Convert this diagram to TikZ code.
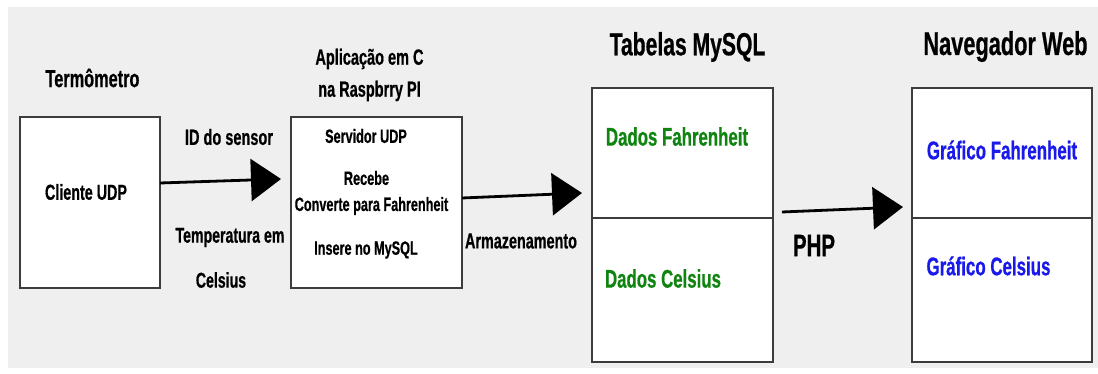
\documentclass[tikz,border=0pt]{standalone}
\usepackage{fontspec}
\setmainfont{Liberation Sans}
\newfontfamily\narrowbf[FakeStretch=0.66,FakeBold=0.6]{Liberation Sans Bold}
\usetikzlibrary{arrows.meta}
\definecolor{bgray}{RGB}{239,239,239}
\definecolor{boxline}{RGB}{60,60,60}
\definecolor{dgreen}{RGB}{16,132,16}
\definecolor{dblue}{RGB}{25,25,235}
\newcommand{\fsz}[1]{\fontsize{#1}{#1}\selectfont}
\tikzset{
  boxnode/.style={draw=boxline, line width=1.5pt, fill=white, inner sep=0pt, outer sep=0pt},
  txt/.style={inner sep=0pt, outer sep=0pt, font=\narrowbf, text=black},
  flowarrow/.style={line width=2.8pt, -{Triangle[length=30pt,width=42pt]}}
}
\begin{document}
\begin{tikzpicture}[x=1pt,y=-1pt]
\useasboundingbox (0,0) rectangle (1098,374);
\fill[bgray] (8,7) rectangle (1098,368);
% boxes
\node[boxnode, minimum width=140pt, minimum height=171pt] (cliente) at (90,202.5) {};
\node[boxnode, minimum width=171pt, minimum height=171pt] (app) at (376.5,202.5) {};
\node[boxnode, minimum width=181pt, minimum height=130pt] (dbF) at (682.5,153) {};
\node[boxnode, minimum width=181pt, minimum height=144pt] (dbC) at (682.5,290) {};
\node[boxnode, minimum width=180pt, minimum height=130pt] (webF) at (1002,153) {};
\node[boxnode, minimum width=180pt, minimum height=144pt] (webC) at (1002,290) {};
% titles
\node[txt, font=\narrowbf\fsz{24.7}] (t1) at (92.5,78) {Termômetro};
\node[txt, font=\narrowbf\fsz{22}] (t2) at (369.5,59) {Aplicação em C};
\node[txt, font=\narrowbf\fsz{22}] (t2b) at (369.5,91) {na Raspbrry PI};
\node[txt, font=\narrowbf\fsz{32}] (t3) at (687.5,47) {Tabelas MySQL};
\node[txt, font=\narrowbf\fsz{33}] (t4) at (1005.5,46.5) {Navegador Web};
% box contents
\node[txt, font=\narrowbf\fsz{21.7}] (c1) at (86,192) {Cliente UDP};
\node[txt, font=\narrowbf\fsz{19.2}] (s1) at (366,136) {Servidor UDP};
\node[txt, font=\narrowbf\fsz{19.2}] (s2) at (366.5,178) {Recebe};
\node[txt, font=\narrowbf\fsz{19.2}] (s3) at (371.5,206) {Converte para Fahrenheit};
\node[txt, font=\narrowbf\fsz{19.2}] (s4) at (366,250) {Insere no MySQL};
\node[txt, font=\narrowbf\fsz{25.5}, text=dgreen] (d1) at (677,136.5) {Dados Fahrenheit};
\node[txt, font=\narrowbf\fsz{25.5}, text=dgreen] (d2) at (663,278.5) {Dados Celsius};
\node[txt, font=\narrowbf\fsz{25.6}, text=dblue] (g1) at (1002,150) {Gráfico Fahrenheit};
\node[txt, font=\narrowbf\fsz{25.6}, text=dblue] (g2) at (988.5,266) {Gráfico Celsius};
% arrow labels
\node[txt, font=\narrowbf\fsz{22}] (l1) at (229,137) {ID do sensor};
\node[txt, font=\narrowbf\fsz{21.4}] (l2) at (230,237.5) {Temperatura em};
\node[txt, font=\narrowbf\fsz{21.4}] (l3) at (221,280) {Celsius};
\node[txt, font=\narrowbf\fsz{21.8}] (l4) at (521,241) {Armazenamento};
\node[txt, font=\narrowbf\fsz{31}] (l5) at (814,245.5) {PHP};
% arrows
\draw[flowarrow] ([yshift=19.5pt]cliente.east) -- ([xshift=-10pt,yshift=23.5pt]app.west);
\draw[flowarrow] ([yshift=4.5pt]app.east) -- ([xshift=-10pt,yshift=25pt]dbC.north west);
\draw[flowarrow] ([xshift=9pt,yshift=6pt]dbC.north east) -- ([xshift=-9pt,yshift=11pt]webF.south west);
\end{tikzpicture}
\end{document}
